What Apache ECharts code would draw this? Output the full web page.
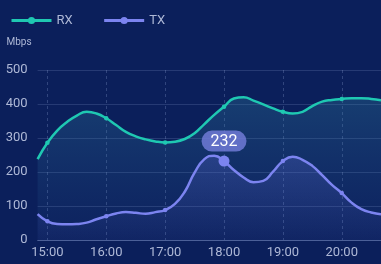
<!DOCTYPE html>
<html>
<head>
<meta charset="utf-8">
<script src="https://cdn.jsdelivr.net/npm/echarts@6/dist/echarts.min.js"></script>
<style>
html,body{margin:0;padding:0;background:#0b1f5b;}
#c{width:381px;height:264px;}
</style>
</head>
<body>
<div id="c"></div>
<script>
var times = ['14:50','15:00','15:10','15:20','15:30','15:40','15:50','16:00','16:10','16:20','16:30','16:40','16:50','17:00','17:10','17:20','17:30','17:40','17:50','18:00','18:10','18:20','18:30','18:40','18:50','19:00','19:10','19:20','19:30','19:40','19:50','20:00','20:10','20:20','20:30','20:40'];
var rxValues = [238,286,322,347,366,377,372,358,338,318,305,296,290,287,289,297,314,341,368,392,416,420,410,399,387,377,372,377,394,407,412,415,417,417,415,411];
var txValues = [76,55,47,46,47,51,61,70,78,82,80,77,82,88,106,142,198,238,248,232,206,184,170,174,201,232,245,236,218,191,162,138,110,91,81,76];
var yTicks = [0,100,200,300,400,500];
var highlightTime = '18:00';

function isHour(t){ return t.slice(-3) === ':00'; }

function buildData(vals, highlight){
  return vals.map(function(v, i){
    var t = times[i];
    var item = { value: v, symbol: isHour(t) ? 'circle' : 'none', symbolSize: 4.5 };
    if (highlight && t === highlightTime) {
      item.symbolSize = 11;
      item.label = {
        show: true, position: 'top', distance: 4,
        formatter: '{c}', color: '#ffffff', fontSize: 16,
        fontFamily: 'Roboto, sans-serif',
        backgroundColor: 'rgba(112,122,214,0.85)',
        borderRadius: 12, padding: [3, 9, 2, 9]
      };
    }
    return item;
  });
}

var chart = echarts.init(document.getElementById('c'), null, {renderer:'canvas'});
chart.setOption({
  backgroundColor: '#0b1f5b',
  animation: false,
  textStyle: { fontFamily: 'Roboto, sans-serif' },
  legend: {
    left: 5, top: 9,
    itemWidth: 40, itemHeight: 9, itemGap: 30,
    lineStyle: { width: 3 },
    textStyle: { color: '#aeb8d6', fontSize: 13 },
    data: ['RX','TX']
  },
  grid: { left: 37.6, right: -4.7, top: 70, bottom: 24, containLabel: false },
  xAxis: {
    type: 'category',
    boundaryGap: false,
    data: times,
    axisLine: { show: true, lineStyle: { color: 'rgba(150,170,220,0.35)' } },
    axisTick: { show: false },
    axisLabel: {
      interval: function(i, v){ return isHour(v); },
      color: '#aeb8d6', fontSize: 13, margin: 6
    },
    splitLine: {
      show: true,
      interval: function(i, v){ return isHour(v); },
      lineStyle: { color: 'rgba(150,170,220,0.28)', type: [3,3] }
    }
  },
  yAxis: {
    type: 'value',
    min: yTicks[0], max: yTicks[yTicks.length-1], interval: 100,
    name: 'Mbps',
    nameLocation: 'end',
    nameGap: 23,
    nameTextStyle: { color: '#aeb8d6', fontSize: 10, align: 'right', padding: [0, 6, 0, 0] },
    axisLine: { show: false },
    axisTick: { show: false },
    axisLabel: { color: '#aeb8d6', fontSize: 13, margin: 10 },
    splitLine: { lineStyle: { color: 'rgba(150,170,220,0.2)' } }
  },
  series: [
    {
      name: 'RX', type: 'line', smooth: 0.5,
      showSymbol: true, showAllSymbol: true, symbol: 'circle', symbolSize: 4.5,
      data: buildData(rxValues, false),
      itemStyle: { color: '#1fc8b2' },
      lineStyle: { color: '#1fc8b2', width: 2.5 },
      areaStyle: {
        color: new echarts.graphic.LinearGradient(0,0,0,1,[
          {offset:0, color:'rgba(50,135,165,0.42)'},
          {offset:1, color:'rgba(50,110,170,0.05)'}
        ])
      },
      z: 2
    },
    {
      name: 'TX', type: 'line', smooth: 0.5,
      showSymbol: true, showAllSymbol: true, symbol: 'circle', symbolSize: 4.5,
      data: buildData(txValues, true),
      itemStyle: { color: '#7c84f0' },
      lineStyle: { color: '#7c84f0', width: 2.5 },
      areaStyle: {
        color: new echarts.graphic.LinearGradient(0,0,0,1,[
          {offset:0, color:'rgba(110,120,235,0.32)'},
          {offset:1, color:'rgba(110,120,235,0.06)'}
        ])
      },
      z: 3
    }
  ]
});
</script>
</body>
</html>
